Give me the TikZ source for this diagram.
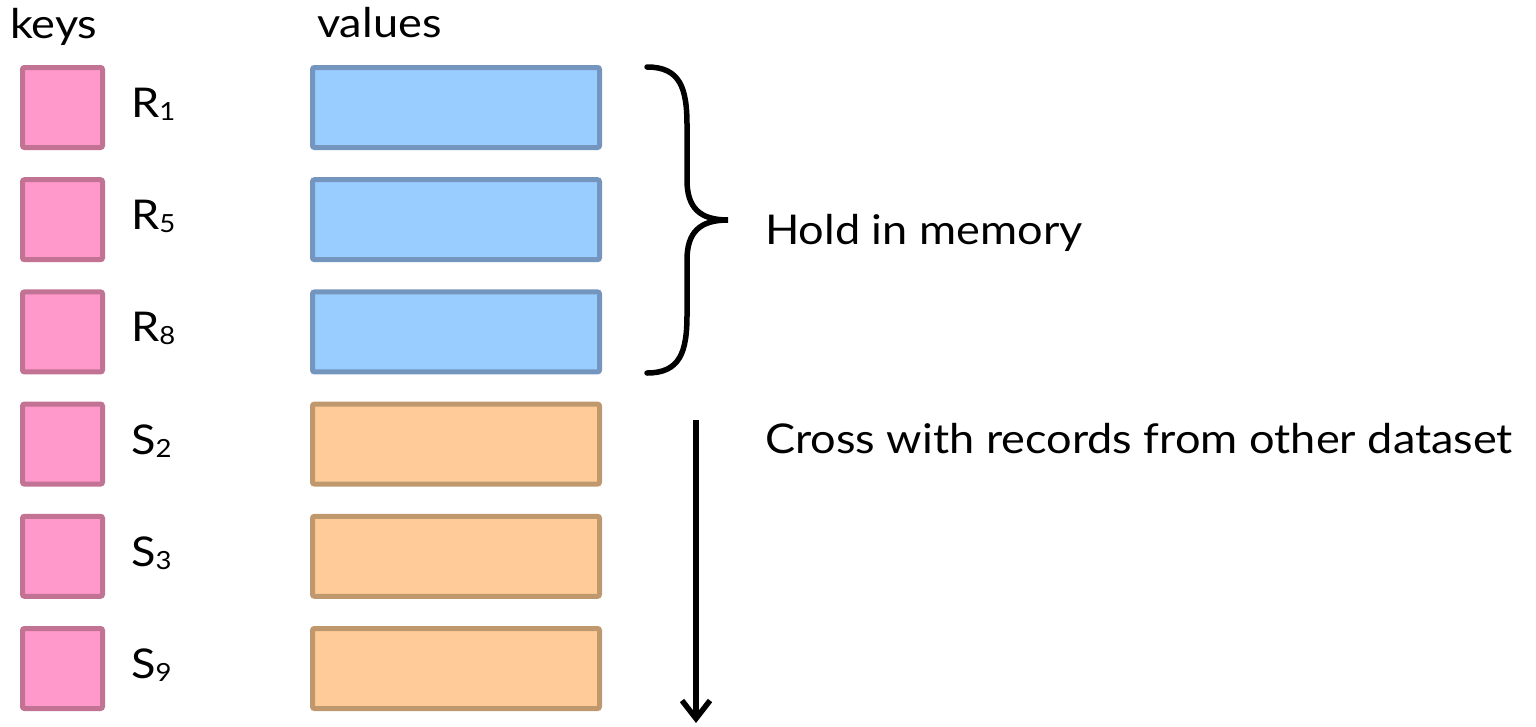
\documentclass[tikz,border=0pt]{standalone}
\usepackage{fontspec}
\setmainfont[FakeStretch=1.1]{Lato}
\usetikzlibrary{arrows.meta}
\definecolor{key-pink}{HTML}{FF99CC}
\definecolor{key-edge}{HTML}{C27292}
\definecolor{mem-blue}{HTML}{99CCFF}
\definecolor{mem-edge}{HTML}{7496BE}
\definecolor{scan-orange}{HTML}{FFCC99}
\definecolor{scan-edge}{HTML}{C0986E}
\newcommand\keysub[1]{\raisebox{-3pt}{\fontsize{25}{25}\selectfont #1}}
\newcommand\bigtext{\fontsize{41}{48}\selectfont}

\begin{document}
\begin{tikzpicture}[x=1pt, y=-1pt,
    keybox/.style={draw=key-edge, fill=key-pink, line width=5pt, rounded corners=2pt,
      minimum width=80pt, minimum height=80pt, inner sep=0pt},
    membox/.style={draw=mem-edge, fill=mem-blue, line width=5pt, rounded corners=2pt,
      minimum width=287pt, minimum height=80pt, inner sep=0pt},
    scanbox/.style={draw=scan-edge, fill=scan-orange, line width=5pt, rounded corners=2pt,
      minimum width=287pt, minimum height=80pt, inner sep=0pt},
    label/.style={anchor=base west, inner sep=0pt, font=\bigtext}]
    \useasboundingbox (0,0) rectangle (1536,726);

    \node[label] (keys) at (10,38) {keys};
    \node[label] (values) at (317,37) {values};

    \foreach \i/\rec/\num/\kind in {0/R/1/membox, 1/R/5/membox, 2/R/8/membox,
                                    3/S/2/scanbox, 4/S/3/scanbox, 5/S/9/scanbox} {
      \node[keybox] (key\i) at (62.5, 107.5+112.2*\i) {};
      \node[label] (lab\i) at (131, 117.5+112.2*\i) {\rec\keysub{\num}};
      \node[\kind] (val\i) at (456, 107.5+112.2*\i) {};
    }

    % brace round the records held in memory
    \coordinate (bracetip) at (728,220);
    \draw[line width=5.5pt, line cap=round]
      (647,67) .. controls (680,67) and (687,88) .. (687,125) -- (687,180)
      .. controls (687,208) and (700,220) .. (bracetip)
      .. controls (700,220) and (687,232) .. (687,260) -- (687,315)
      .. controls (687,352) and (680,373) .. (647,373);
    \node[label] (hold) at (765,244) {Hold in memory};

    % stream over the other records
    \coordinate (streamtop) at (696,420);
    \coordinate (streamend) at (696,723);
    \draw[line width=5.5pt, -{Straight Barb[length=18pt, width=28pt]}] (streamtop) -- (streamend);
    \node[label] (cross) at (765,453) {Cross with records from other dataset};
\end{tikzpicture}
\end{document}
